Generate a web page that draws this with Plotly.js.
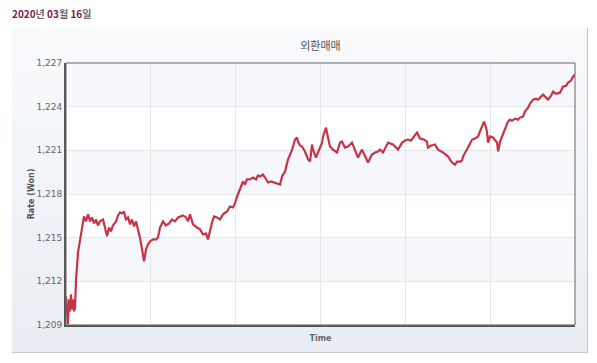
<!DOCTYPE html>
<html>
<head>
<meta charset="utf-8">
<script src="https://cdn.plot.ly/plotly-3.0.1.min.js"></script>
<style>
html,body{margin:0;padding:0;background:#fff;}
#wrap{position:relative;width:597px;height:363px;}
#panel{position:absolute;left:12px;top:28px;width:575px;height:324px;
  background:linear-gradient(#f9fafc,#e7edf2);border-right:1px solid #c4c7ca;border-bottom:1px solid #c4c7ca;}
#chart{position:absolute;left:0;top:0;width:597px;height:363px;}
</style>
</head>
<body>
<div id="wrap"><div id="panel"></div><div id="chart"></div></div>
<script>
// minutes after 09:00
var minutes = [0,0.7,1.4,2.1,2.8,3.5,4.2,5.0,5.7,6.4,7.1,8.5,9.9,11.3,12.7,14.1,15.6,17.0,18.4,19.8,21.2,22.6,24.0,26.2,27.6,29.0,30.4,31.8,33.2,35.4,36.8,38.2,39.6,41.0,42.4,43.9,45.3,46.7,48.1,49.5,50.9,52.3,53.8,54.5,55.2,56.6,58.0,59.4,61.5,63.7,65.1,66.5,68.6,70.7,72.9,75.0,77.1,79.2,80.6,82.8,84.9,86.3,87.7,89.8,92.7,94.8,96.9,99.0,100.4,101.9,103.3,104.7,106.8,108.9,111.0,113.9,116.0,118.1,119.5,121.0,123.1,125.2,126.6,128.0,130.1,132.3,134.4,135.8,137.2,139.3,140.8,142.9,145.0,147.1,149.2,151.4,152.8,154.9,157.0,158.4,159.9,162.0,163.4,164.1,165.5,166.9,169.0,171.2,172.6,174.0,174.7,176.8,178.2,179.7,181.1,181.8,183.2,183.9,185.3,186.7,188.8,191.7,193.8,195.2,197.3,199.5,202.3,204.4,206.5,209.4,211.5,213.6,216.4,218.6,220.7,222.1,224.2,226.3,227.8,231.3,233.4,234.8,237.7,239.8,241.9,244.0,246.1,248.3,250.4,253.2,255.3,256.0,258.2,261.0,263.1,266.7,270.2,273.0,275.1,276.6,278.7,280.1,280.8,282.9,284.3,287.2,289.3,291.4,292.8,294.2,295.6,297.1,297.8,298.5,299.9,302.0,303.4,304.9,305.6,307.0,308.4,310.5,312.6,314.0,315.4,317.6,319.7,321.1,323.2,324.6,326.8,328.2,330.3,332.4,333.8,336.0,337.4,339.5,340.9,343.1,344.5,346.6,349.4,351.5,353.7,355.1,357.2,358.6,360.0];
// rate (won)
var rates = [1210.97,1210.08,1209.05,1210.77,1209.94,1211.11,1210.08,1210.77,1209.94,1210.22,1212.14,1213.99,1214.74,1215.77,1216.46,1216.12,1216.60,1216.12,1216.39,1215.98,1216.25,1215.84,1216.12,1216.25,1215.70,1215.09,1215.70,1215.43,1215.84,1216.12,1216.53,1216.73,1216.66,1216.80,1216.25,1216.39,1215.91,1216.25,1215.77,1216.12,1215.57,1215.02,1214.19,1213.85,1213.37,1214.19,1214.54,1214.74,1214.88,1214.88,1215.02,1215.70,1216.12,1215.84,1215.98,1216.25,1216.12,1216.39,1216.46,1216.53,1216.39,1216.12,1216.60,1215.91,1215.70,1215.57,1215.22,1215.29,1214.88,1215.57,1216.05,1216.46,1216.39,1216.25,1216.60,1216.80,1217.14,1217.08,1217.35,1217.83,1218.31,1218.86,1218.65,1219.00,1219.00,1219.13,1219.00,1219.27,1219.20,1219.34,1219.13,1218.79,1218.86,1218.79,1218.72,1218.65,1219.20,1219.54,1220.37,1220.71,1221.05,1221.74,1221.88,1221.60,1221.33,1221.26,1220.92,1220.37,1220.23,1221.40,1221.05,1220.50,1220.85,1221.19,1221.53,1221.95,1222.29,1222.56,1221.88,1221.26,1221.05,1220.85,1221.53,1221.60,1221.19,1221.26,1221.53,1221.05,1220.50,1221.05,1220.57,1220.16,1220.71,1220.85,1220.92,1221.05,1220.85,1221.26,1221.53,1221.40,1221.19,1221.05,1221.53,1221.67,1221.74,1221.67,1221.95,1222.22,1221.81,1221.74,1221.60,1221.19,1221.33,1221.40,1221.05,1220.85,1220.57,1220.16,1220.02,1220.23,1220.23,1220.30,1220.57,1220.92,1221.19,1221.74,1221.81,1221.95,1222.29,1222.63,1222.97,1222.56,1222.22,1221.53,1221.95,1221.88,1221.74,1221.53,1220.92,1221.60,1221.95,1222.43,1222.97,1223.11,1223.04,1223.18,1223.11,1223.25,1223.32,1223.66,1223.93,1224.21,1224.48,1224.55,1224.48,1224.69,1224.83,1224.62,1224.48,1224.76,1225.03,1224.89,1224.96,1225.37,1225.44,1225.65,1225.79,1226.06,1226.20];
var yTicks = [1209,1212,1215,1218,1221,1224,1227];
var yTickText = ['1,209','1,212','1,215','1,218','1,221','1,224','1,227'];
var bandPairs = [[1212,1215],[1218,1221],[1224,1227]];

var shapes = bandPairs.map(function(b){
  return {type:'rect', xref:'paper', yref:'y', x0:0, x1:1, y0:b[0], y1:b[1],
    fillcolor:'#f6f8fb', line:{width:0}, layer:'below'};
});
shapes.push({type:'rect', xref:'paper', yref:'paper', x0:0, x1:1, y0:0, y1:1,
  line:{color:'#666', width:1}, layer:'above'});

var trace = {x: minutes, y: rates, type:'scatter', mode:'lines',
  line:{color:'#c83447', width:2.2}, hoverinfo:'skip'};

var layout = {
  width:597, height:363,
  margin:{l:66, r:22, t:63, b:38},
  paper_bgcolor:'rgba(0,0,0,0)', plot_bgcolor:'#ffffff',
  showlegend:false,
  font:{family:'DejaVu Sans, sans-serif', size:9, color:'#555'},
  title:{text:'외환매매', x:0.5, xref:'paper', xanchor:'center', y:1-46/363, yanchor:'middle',
    font:{family:'Noto Sans CJK KR', size:11, color:'#555'}},
  xaxis:{range:[0,360], dtick:60, tick0:0, showticklabels:false, ticks:'',
    showgrid:true, gridcolor:'#e6e6e6', gridwidth:1, zeroline:false,
    showline:true, linecolor:'#555', linewidth:2,
    title:{text:'Time', standoff:9, font:{family:'DejaVu Sans', size:8, color:'#666', weight:'bold'}}},
  yaxis:{range:[1209,1227], tickvals:yTicks, ticktext:yTickText, ticks:'', ticklen:0,
    tickfont:{family:'DejaVu Sans', size:9, color:'#666'},
    showgrid:true, gridcolor:'#e4e8ec', gridwidth:1, zeroline:false,
    showline:true, linecolor:'#555', linewidth:2,
    title:{text:'Rate (Won)', standoff:1, font:{family:'DejaVu Sans', size:8, color:'#555', weight:'bold'}}},
  shapes: shapes,
  annotations:[{xref:'paper', yref:'paper', x:-56/509, y:1+49/262, xanchor:'left', yanchor:'middle',
    showarrow:false,
    text:'<b><span style="color:#861550">2020</span><span style="color:#666">년</span> <span style="color:#861550">03</span><span style="color:#666">월</span> <span style="color:#861550">16</span><span style="color:#666">일</span></b>',
    font:{family:'Noto Sans CJK KR', size:10}}]
};
Plotly.newPlot('chart', [trace], layout, {displayModeBar:false, staticPlot:true});
</script>
</body>
</html>
